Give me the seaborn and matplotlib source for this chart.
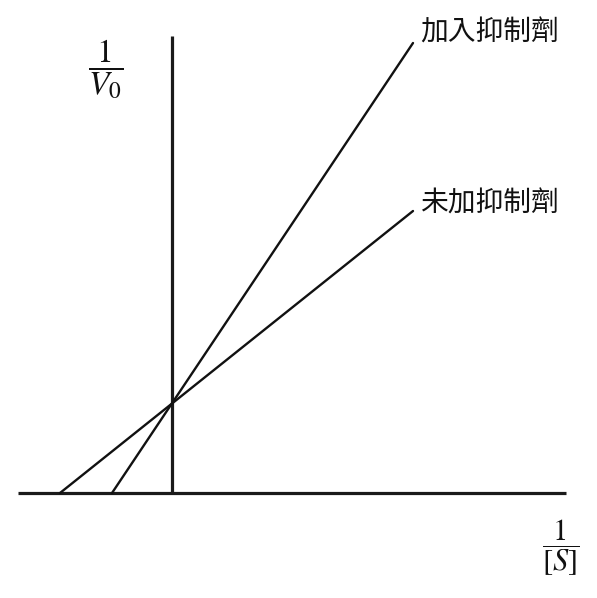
import matplotlib
matplotlib.use("Agg")
import matplotlib.pyplot as plt
import seaborn as sns
import pandas as pd

sns.set_theme(style="white")
plt.rcParams['font.family'] = ['Noto Sans CJK TC', 'DejaVu Sans']
plt.rcParams['mathtext.fontset'] = 'stix'

# data (arbitrary units; origin at axis crossing)
series_names = ["加入抑制劑", "未加抑制劑"]
inhib_x = [-60, 241]
inhib_y = [0, 450]
noinhib_x = [-112, 241]
noinhib_y = [0, 282]
x_axis_range = [-154, 394]
y_axis_range = [0, 457]

df = pd.DataFrame({
    "x": inhib_x + noinhib_x,
    "y": inhib_y + noinhib_y,
    "series": [series_names[0]] * 2 + [series_names[1]] * 2,
})

fig = plt.figure(figsize=(5.97, 5.98), dpi=100)
ax = fig.add_axes([0, 0, 1, 1])
ax.set_xlim(-172, 425)
ax.set_ylim(-105, 493)
ax.axis("off")

# axes lines
ax.plot(x_axis_range, [0, 0], color="#1a1a1a", lw=2.3, solid_capstyle="butt")
ax.plot([0, 0], y_axis_range, color="#1a1a1a", lw=2.3, solid_capstyle="butt")

sns.lineplot(data=df, x="x", y="y", hue="series", palette=["#111111", "#111111"],
             estimator=None, sort=False, legend=False, lw=1.7, ax=ax)

ax.text(248, 460, series_names[0], fontsize=20, va="center", ha="left", color="#111111")
ax.text(248, 289, series_names[1], fontsize=20, va="center", ha="left", color="#111111")

ax.text(-66, 424, r"$\dfrac{1}{V_0}$", fontsize=24, ha="center", va="center", color="#111111")
ax.text(389, -55, r"$\dfrac{1}{[S]}$", fontsize=22, ha="center", va="center", color="#111111")

fig.savefig("out.png", dpi=100)
